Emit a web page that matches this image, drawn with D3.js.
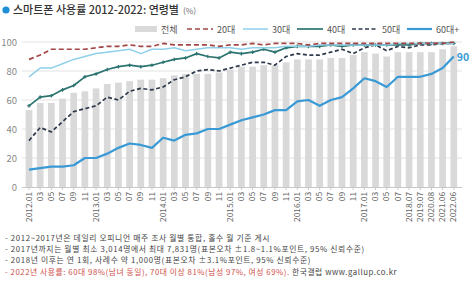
<!DOCTYPE html>
<html><head><meta charset="utf-8">
<script src="https://cdn.jsdelivr.net/npm/d3@7"></script>
<style>
html,body{margin:0;padding:0;background:#fff;}
svg{display:block;}
text{font-family:"Noto Sans CJK KR","Noto Sans",sans-serif;}
</style></head>
<body>
<svg id="c" width="474" height="288"></svg>
<script>
const categories = ["2012.01","03","05","07","09","11","2013.01","03","05","07","09","11","2014.01","03","05","07","09","11","2015.01","03","05","07","09","11","2016.01","03","05","07","09","11","2017.01","03","05","07","2018.07","2019.07","2020.08","2021.06","2022.06"];
const total = [53,58,58,61,65,66, 68,71,72,73,74,74, 75,77,78,78,78,79, 81,83,83,84,84,86, 88,88,88,89,89,91, 93,92,90,93, 93,93,93,95,97];
const age20 = [88,91,95,95,95,95, 96,97,97,98,97,97, 99,98,98,98,98,97, 98,98,99,98,99,99, 99,98,99,99,99,99, 99,99,99,99, 99,99,99,99,100];
const age30 = [76,82,82,85,88,90, 92,93,94,95,92,95, 95,96,94,95,96,96, 96,95,96,96,96,97, 97,97,98,98,98,98, 98,98,98,99, 99,99,99,99,99];
const age40 = [56,62,63,67,70,76, 78,81,83,84,83,84, 86,88,89,92,90,89, 93,92,93,95,93,96, 97,97,97,98,97,98, 98,98,98,98, 98,99,99,99,99];
const age50 = [32,41,38,45,52,54, 56,62,60,66,68,67, 69,74,76,80,81,80, 82,84,86,86,84,90, 92,91,91,93,95,92, 96,98,94,97, 96,98,98,99,99];
const age60 = [12,13,14,14,15,20, 20,23,27,30,29,27, 34,32,36,37,40,40, 43,46,48,50,53,53, 59,60,56,60,62,68, 75,73,69,76, 76,76,78,82,90];
const yTicks = [0,20,40,60,80,100];
const seriesNames = ["전체","20대","30대","40대","50대","60대+"];
const titleText = "스마트폰 사용률 2012-2022: 연령별";
const notes = [
  "- 2012~2017년은 데일리 오피니언 매주 조사 월별 통합, 홀수 월 기준 게시",
  "- 2017년까지는 월별 최소 3,014명에서 최대 7,831명(표본오차 ±1.8~1.1%포인트, 95% 신뢰수준)",
  "- 2018년 이후는 연 1회, 사례수 약 1,000명(표본오차 ±3.1%포인트, 95% 신뢰수준)"
];
const noteRed = "- 2022년 사용률: 60대 98%(남녀 동일), 70대 이상 81%(남성 97%, 여성 69%).";
const noteTail = " 한국갤럽 www.gallup.co.kr";

const svg = d3.select("#c");
const idx = d3.range(categories.length);
const x = d3.scaleBand().domain(idx).range([23.4, 459.4]).paddingInner(0.4).paddingOuter(0.2);
const y = d3.scaleLinear().domain([0,100]).range([187, 42]);
const cx = i => x(i) + x.bandwidth()/2;

// title
svg.append("circle").attr("cx",6).attr("cy",10).attr("r",3.6).attr("fill","#1f8fd6");
const t = svg.append("text").attr("x",13).attr("y",14).attr("font-size",11).attr("font-weight",500).attr("fill","#333").text(titleText);
t.append("tspan").attr("font-size",8).attr("fill","#888").attr("dx",4).text("(%)");

// gridlines
svg.append("g").selectAll("line").data(yTicks.filter(d=>d>0)).join("line")
  .attr("x1",22).attr("x2",462).attr("y1",d=>y(d)).attr("y2",d=>y(d))
  .attr("stroke","#e3e3e3").attr("stroke-width",1);

// y axis
const ya = svg.append("g").attr("transform","translate(22,0)")
  .call(d3.axisLeft(y).tickValues(yTicks).tickSize(0).tickPadding(5));
ya.select(".domain").remove();
ya.selectAll("text").attr("fill","#888").attr("font-size",9.5).attr("font-family","'Liberation Sans',Arial,sans-serif");

// bars
svg.append("g").selectAll("rect").data(total).join("rect")
  .attr("x",(d,i)=>x(i)).attr("width",x.bandwidth())
  .attr("y",d=>y(d)).attr("height",d=>y(0)-y(d)).attr("fill","#d9d9d9");

// x axis
const xa = svg.append("g").attr("transform","translate(0,187)")
  .call(d3.axisBottom(x).tickFormat(i=>categories[i]).tickSize(3).tickSizeOuter(0));
xa.select(".domain").attr("stroke","#c8c8c8").attr("d","M22,0.5H462");
xa.selectAll(".tick line").attr("stroke","#c8c8c8");
xa.selectAll("text").attr("fill","#666").attr("font-size",8.3)
  .attr("font-family","'Liberation Sans',Arial,sans-serif")
  .attr("text-anchor","end").attr("transform","rotate(-90)")
  .attr("x",-5).attr("y",0).attr("dy","0.32em");

const line = d3.line().x((d,i)=>cx(i)).y(d=>y(d));
const specs = [
  {data:age60, color:"#3a9ad6", w:2.2, dash:null},
  {data:age50, color:"#2f3a4c", w:1.7, dash:"4,2.5"},
  {data:age40, color:"#2c7470", w:1.7, dash:null, marker:true},
  {data:age30, color:"#8fd0ea", w:1.5, dash:null},
  {data:age20, color:"#a34545", w:1.7, dash:"5,3"}
];
specs.forEach(s=>{
  svg.append("path").datum(s.data).attr("d",line).attr("fill","none")
    .attr("stroke",s.color).attr("stroke-width",s.w)
    .attr("stroke-dasharray",s.dash).attr("stroke-linejoin","round");
  if(s.marker){
    svg.append("g").selectAll("path").data(s.data).join("path")
      .attr("transform",(d,i)=>`translate(${cx(i)},${y(d)})`)
      .attr("d",d3.symbol(d3.symbolCross,7)).attr("fill",s.color);
  }
});

// end label
svg.append("text").attr("x",cx(categories.length-1)+3).attr("y",y(age60[age60.length-1])+4)
  .attr("font-size",10.5).attr("font-weight",700).attr("fill","#3a9ad6").text(age60[age60.length-1]);

// legend
const leg = [
  {name:seriesNames[0], x1:135, x2:157, type:"rect", color:"#d9d9d9"},
  {name:seriesNames[1], x1:187, x2:213, color:"#a34545", w:1.7, dash:"5,3"},
  {name:seriesNames[2], x1:243, x2:268, color:"#8fd0ea", w:1.5},
  {name:seriesNames[3], x1:297, x2:323, color:"#2c7470", w:1.7},
  {name:seriesNames[4], x1:352, x2:378, color:"#2f3a4c", w:1.7, dash:"4,2.5"},
  {name:seriesNames[5], x1:407, x2:432, color:"#3a9ad6", w:2.2}
];
const ly = 29;
leg.forEach(l=>{
  if(l.type==="rect"){
    svg.append("rect").attr("x",l.x1).attr("y",ly-3).attr("width",l.x2-l.x1).attr("height",6).attr("fill",l.color);
  } else {
    svg.append("line").attr("x1",l.x1).attr("x2",l.x2).attr("y1",ly).attr("y2",ly)
      .attr("stroke",l.color).attr("stroke-width",l.w).attr("stroke-dasharray",l.dash||null);
  }
  svg.append("text").attr("x",l.x2+4).attr("y",ly+3.5).attr("font-size",9).attr("fill","#555").text(l.name);
});

// notes
const noteFont = "'Noto Sans CJK KR',sans-serif";
const nGap = 11.4, nSize = 7.8, n0 = 240.5;
notes.forEach((n,i)=>{
  svg.append("text").attr("x",5).attr("y",n0+i*nGap).attr("font-size",nSize)
    .attr("letter-spacing",0.65)
    .attr("font-family",noteFont).attr("fill","#444").text(n);
});
const nr = svg.append("text").attr("x",5).attr("y",n0+3*nGap).attr("font-size",nSize)
  .attr("letter-spacing",0.55).attr("font-family",noteFont);
nr.append("tspan").attr("fill","#d0504a").text(noteRed);
nr.append("tspan").attr("fill","#444").text(noteTail);
</script>
</body></html>
